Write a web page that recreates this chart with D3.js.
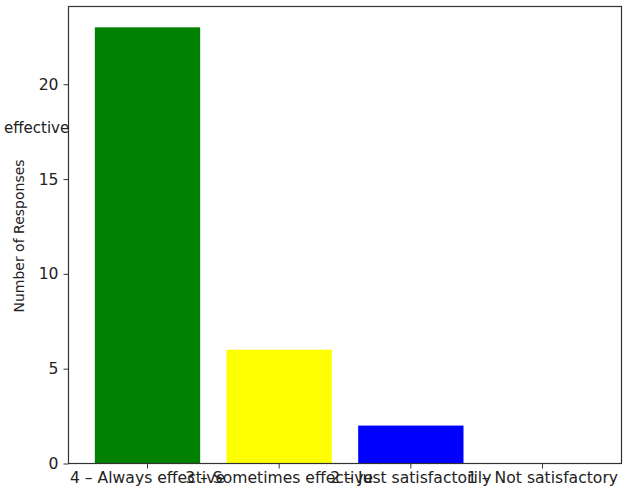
<!DOCTYPE html>
<html><head><meta charset="utf-8">
<script src="https://cdn.jsdelivr.net/npm/d3@7"></script>
<style>body{margin:0;background:#fff}svg{display:block}text{font-family:"DejaVu Sans",sans-serif;fill:#222}</style>
</head><body>
<svg id="c" width="624" height="492"></svg>
<script>
const categories = ["4 – Always effective","3 – Sometimes effective","2 – Just satisfactorily","1 – Not satisfactory"];
const values = [23, 6, 2, 0];
const colors = ["#008000","#ffff00","#0000ff","#ff0000"];
const yTicks = [0,5,10,15,20];

const svg = d3.select("#c");
const L = 68.5, R = 621.5, T = 6.5, B = 463.5;
const x = d3.scaleBand().domain(categories).range([L, R]).paddingInner(0.2).paddingOuter(0.2);
const y = d3.scaleLinear().domain([0, 24.1]).range([B, T]);

svg.append("g").selectAll("rect").data(values).join("rect")
  .attr("x", (d,i)=>x(categories[i]))
  .attr("width", x.bandwidth())
  .attr("y", d=>y(d))
  .attr("height", d=>B - y(d))
  .attr("fill", (d,i)=>colors[i]);

// frame
svg.append("rect").attr("x",L).attr("y",T).attr("width",R-L).attr("height",B-T)
  .attr("fill","none").attr("stroke","#333").attr("stroke-width",1.2);

const ya = svg.append("g").attr("transform",`translate(${L},0)`)
  .call(d3.axisLeft(y).tickValues(yTicks).tickSize(5).tickPadding(5));
const xa = svg.append("g").attr("transform",`translate(0,${B})`)
  .call(d3.axisBottom(x).tickSize(5).tickPadding(3));
[ya, xa].forEach(a=>{
  a.select(".domain").remove();
  a.selectAll("line").attr("stroke","#333");
  a.selectAll("text").attr("font-size",15.6).attr("fill","#222").style("font-family","DejaVu Sans");
});

svg.append("text").attr("transform","translate(24,236) rotate(-90)")
  .attr("text-anchor","middle").attr("font-size",14).text("Number of Responses");
svg.append("text").attr("x",4).attr("y",133).attr("font-size",15).text("effective");
</script>
</body></html>
